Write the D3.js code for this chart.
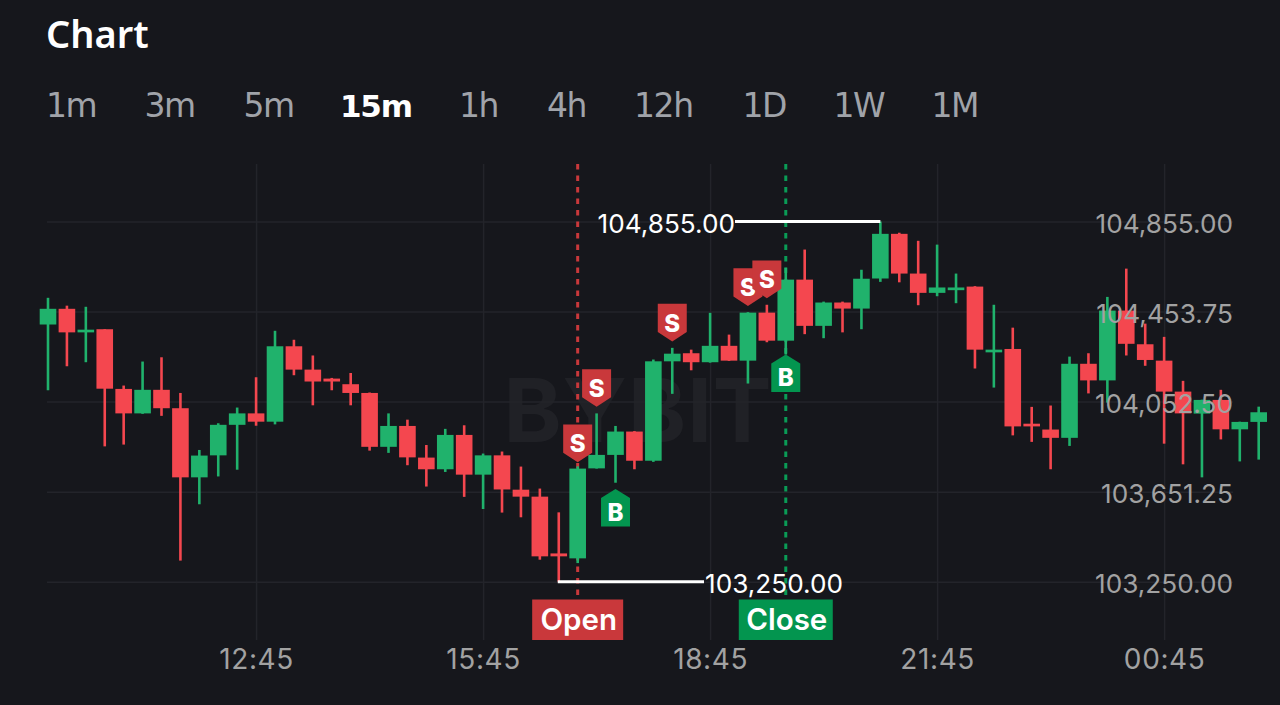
<!DOCTYPE html>
<html>
<head>
<meta charset="utf-8">
<script src="https://cdn.jsdelivr.net/npm/d3@7"></script>
<style>
  html, body { margin: 0; padding: 0; background: #16171c; overflow: hidden; }
  svg { display: block; }
  .domain { display: none; }
  .grid line { stroke: #23242a; stroke-width: 1.5; }
  .axis-label line { display: none; }
  .axis-label text { font-family: Inter, sans-serif; fill: #a2a2a2; }
</style>
</head>
<body>
<svg id="chart" width="1280" height="705"></svg>
<script>
var opens = [104396,104466,104361,104375,104109,104000,104105,104023,103715,103813,
	103949,104000,103963,104299,104195,104155,104130,104091,103851,103944,
	103803,103751,103904,103727,103813,103660,103629,103376,103354,103755,
	103815,103919,103789,104232,104268,104228,104301,104235,104449,104324,
	104596,104390,104494,104467,104601,104800,104623,104537,104549,104565,
	104272,104287,103954,103928,103891,104221,104147,104458,104308,104235,
	104097,103999,104060,103929,103962];
var closes = [104466,104361,104373,104110,104000,104105,104023,103715,103812,103949,
	104000,103963,104299,104195,104142,104142,104091,103851,103944,103804,
	103751,103904,103727,103813,103661,103629,103363,103363,103754,103815,
	103919,103789,104232,104266,104228,104301,104235,104449,104324,104596,
	104390,104494,104467,104600,104800,104623,104537,104561,104561,104284,
	104284,103942,103942,103891,104221,104147,104458,104310,104238,104097,
	104000,104060,103929,103962,104005];
var highs = [104515,104480,104475,104375,104124,104231,104250,104091,103837,103956,
	104026,104161,104368,104328,104258,104158,104180,104093,104000,103972,
	103859,103931,103947,103821,103830,103763,103665,103559,103764,104000,
	103944,103921,104240,104292,104284,104448,104351,104451,104484,104649,
	104730,104498,104498,104640,104855,104805,104769,104752,104623,104567,
	104484,104382,104029,104035,104253,104268,104519,104645,104400,104341,
	104145,104061,104105,103963,104030];
var lows = [104103,104210,104228,103853,103861,103998,103989,103344,103595,103719,
	103749,103945,103951,104170,104036,104103,104036,103834,103824,103769,
	103674,103739,103628,103574,103558,103537,103348,103250,103333,103754,
	103691,103751,103784,104087,104192,104226,104234,104133,104317,104262,
	104353,104335,104361,104375,104586,104584,104482,104522,104491,104200,
	104115,103902,103873,103751,103855,104089,104048,104258,104212,103865,
	103773,103715,103884,103786,103794];

var tabs = ["1m","3m","5m","15m","1h","4h","12h","1D","1W","1M"];
var activeTab = "15m";
var priceTicks = [104855, 104453.75, 104052.5, 103651.25, 103250];
var timeTickIndex = [11, 23, 35, 47, 59];
var timeTickLabels = ["12:45","15:45","18:45","21:45","00:45"];

/* markers: candle index and the price the marker tip sits at */
var sellIndex = [28, 29, 33, 37, 38];
var sellTip = [103782, 104029, 104320, 104479, 104513];
var buyIndex = [30, 39];
var buyTip = [103663, 104262];
var openIndex = 28;
var closeIndex = 39;
var highIndex = 44;
var lowIndex = 27;

var RED = "#f4474f", GREEN = "#20b26c";
var TAG_RED = "#c9383b", TAG_GREEN = "#03954f";

var svg = d3.select("#chart");
var x = d3.scaleLinear().domain([0, 64]).range([48, 1258.7]);
var y = d3.scaleLinear().domain([103250, 104855]).range([581.7, 221.5]);

/* header */
svg.append("text").attr("x", 46).attr("y", 47.5).text("Chart")
	.attr("fill", "#fff").style("font", "600 38px 'Noto Sans', sans-serif");

/* the tab font is a stand-in, so place each tab where the picture has it */
var tabStart = [46, 144.5, 243.5, 340, 459, 547, 634, 742.5, 833.5, 931.5];
tabs.forEach(function(t, n) {
	var active = t == activeTab;
	svg.append("text").attr("x", tabStart[n]).attr("y", 117).text(t)
		.attr("fill", active ? "#fff" : "#a0a3a9")
		.style("font-family", "'DejaVu Sans', sans-serif")
		.style("font-size", active ? "31px" : "33px")
		.style("font-weight", active ? 700 : 400)
		.style("letter-spacing", active ? "-1.2px" : "-1.4px");
});

/* watermark */
svg.append("text").attr("x", 638).attr("y", 441.5).attr("text-anchor", "middle").text("BYBIT")
	.attr("fill", "#202126").style("font", "700 88px Inter, sans-serif").style("letter-spacing", "1px");

/* grid lines go under the candles, the labels go on top of them */
svg.append("g").attr("class", "grid").attr("transform", "translate(47,0)")
	.call(d3.axisRight(y).tickValues(priceTicks).tickSize(1186).tickFormat(""));
svg.append("g").attr("class", "grid").attr("transform", "translate(0,640)")
	.call(d3.axisTop(x).tickValues(timeTickIndex).tickSize(476).tickFormat(""));

/* open / close dashed lines */
[[openIndex, TAG_RED], [closeIndex, "#0a9c56"]].forEach(function(d) {
	svg.append("line").attr("x1", x(d[0])).attr("x2", x(d[0])).attr("y1", 164).attr("y2", 600)
		.attr("stroke", d[1]).attr("stroke-width", 3).attr("stroke-dasharray", "5.5 6");
});

/* candles */
var candles = d3.range(opens.length);
var candleColor = function(i) { return closes[i] >= opens[i] ? GREEN : RED; };
var bodyW = 16.6;
svg.append("g").selectAll("line").data(candles).join("line")
	.attr("x1", function(i) { return x(i); })
	.attr("x2", function(i) { return x(i); })
	.attr("y1", function(i) { return y(highs[i]); })
	.attr("y2", function(i) { return y(lows[i]); })
	.attr("stroke", candleColor)
	.attr("stroke-width", 2.6);
svg.append("g").selectAll("rect").data(candles).join("rect")
	.attr("x", function(i) { return x(i) - bodyW / 2; })
	.attr("width", bodyW)
	.attr("y", function(i) { return y(Math.max(opens[i], closes[i])); })
	.attr("height", function(i) { return Math.max(2.6, Math.abs(y(opens[i]) - y(closes[i]))); })
	.attr("fill", candleColor);

/* high / low call-outs */
var hiY = y(highs[highIndex]), loY = y(lows[lowIndex]);
svg.append("line").attr("x1", 735).attr("x2", x(highIndex)).attr("y1", hiY).attr("y2", hiY)
	.attr("stroke", "#fff").attr("stroke-width", 3);
svg.append("line").attr("x1", x(lowIndex) - 1).attr("x2", 704).attr("y1", loY).attr("y2", loY)
	.attr("stroke", "#fff").attr("stroke-width", 3);

/* buy / sell markers */
var pentagon = d3.line();
var sellShape = [[-14.5,-37.7],[14.5,-37.7],[14.5,-9.5],[0,0],[-14.5,-9.5]];
var buyShape = [[0,0],[14.5,9],[14.5,37.4],[-14.5,37.4],[-14.5,9]];
sellIndex.forEach(function(idx, n) {
	var g = svg.append("g").attr("transform", "translate(" + x(idx) + "," + y(sellTip[n]) + ")");
	g.append("path").attr("d", pentagon(sellShape) + "Z").attr("fill", TAG_RED);
	g.append("text").attr("y", -10).attr("text-anchor", "middle").text("S")
		.attr("fill", "#fff").style("font", "800 24px Inter, sans-serif");
});
buyIndex.forEach(function(idx, n) {
	var g = svg.append("g").attr("transform", "translate(" + x(idx) + "," + y(buyTip[n]) + ")");
	g.append("path").attr("d", pentagon(buyShape) + "Z").attr("fill", TAG_GREEN);
	g.append("text").attr("y", 31.5).attr("text-anchor", "middle").text("B")
		.attr("fill", "#fff").style("font", "800 24px Inter, sans-serif");
});

/* open / close tags */
[["Open", openIndex, TAG_RED, 91], ["Close", closeIndex, TAG_GREEN, 94]].forEach(function(d) {
	var cx = x(d[1]);
	svg.append("rect").attr("x", cx - d[3] / 2).attr("y", 599.5).attr("width", d[3]).attr("height", 40.5).attr("fill", d[2]);
	svg.append("text").attr("x", cx + 1).attr("y", 629.5).attr("text-anchor", "middle").text(d[0])
		.attr("fill", "#fff").style("font", "600 29.5px Inter, sans-serif");
});

/* axis labels */
var priceAxis = svg.append("g").attr("class", "axis-label").attr("transform", "translate(1233,0)")
	.call(d3.axisLeft(y).tickValues(priceTicks).tickSize(0).tickPadding(0).tickFormat(d3.format(",.2f")));
priceAxis.selectAll("text").attr("dy", null).attr("y", 11).style("font-size", "26.2px");

var timeAxis = svg.append("g").attr("class", "axis-label").attr("transform", "translate(0,669)")
	.call(d3.axisBottom(x).tickValues(timeTickIndex).tickSize(0).tickPadding(0)
		.tickFormat(function(d) { return timeTickLabels[timeTickIndex.indexOf(d)]; }));
timeAxis.selectAll("text").attr("dy", null).attr("y", 0).style("font-size", "28px").style("letter-spacing", "0.6px");

/* call-out texts sit above everything else */
svg.append("text").attr("x", 735).attr("y", hiY + 11.5).attr("text-anchor", "end").text(d3.format(",.2f")(highs[highIndex]))
	.attr("fill", "#fff").style("font", "400 26.2px Inter, sans-serif");
svg.append("text").attr("x", 705).attr("y", loY + 11.5).text(d3.format(",.2f")(lows[lowIndex]))
	.attr("fill", "#fff").style("font", "400 26.2px Inter, sans-serif");
</script>
</body>
</html>
